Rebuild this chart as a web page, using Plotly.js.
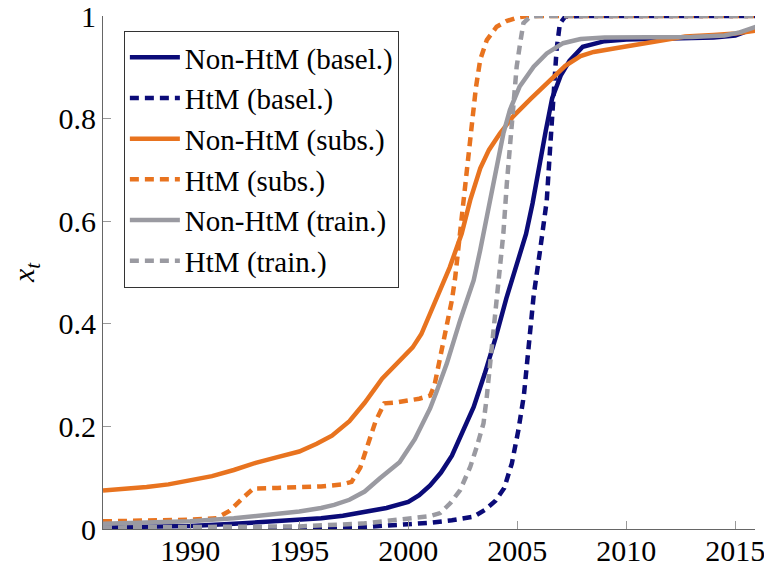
<!DOCTYPE html>
<html>
<head>
<meta charset="utf-8">
<script src="https://cdn.plot.ly/plotly-3.0.1.min.js"></script>
<style>
html,body{margin:0;padding:0;background:#fff;}
#chart{width:764px;height:568px;}
</style>
</head>
<body>
<div id="chart"></div>
<script>
// Non-HtM (basel.)
const yrNonHtmBasel = [1986,1988,1990,1992,1994,1996,1997,1998,1999,2000,2000.5,2001,2001.5,2002,2002.5,2003,2003.5,2004,2004.5,2005,2005.4,2005.7,2006,2006.3,2006.6,2007,2007.4,2008,2009,2010,2012,2014,2015,2016];
const valNonHtmBasel = [0.003,0.004,0.006,0.010,0.015,0.021,0.026,0.033,0.041,0.053,0.066,0.085,0.11,0.143,0.19,0.238,0.302,0.372,0.45,0.52,0.575,0.635,0.71,0.775,0.84,0.885,0.913,0.94,0.951,0.954,0.956,0.958,0.962,0.978];
// HtM (basel.)
const yrHtmBasel = [1986,1990,1995,1998,2000,2001,2002,2003,2003.5,2004,2004.4,2004.75,2005.05,2005.3,2005.45,2005.6,2005.75,2006.05,2006.35,2006.5,2006.65,2006.8,2006.95,2007.2,2008,2016];
const valHtmBasel = [0.001,0.001,0.002,0.004,0.008,0.012,0.017,0.024,0.037,0.055,0.08,0.128,0.193,0.26,0.325,0.39,0.455,0.545,0.64,0.74,0.836,0.934,0.985,0.999,1,1];
// Non-HtM (subs.)
const yrNonHtmSubs = [1986,1987,1988,1989,1990,1991,1992,1993,1994,1995,1995.8,1996.5,1997.3,1998,1998.8,1999.6,2000.2,2000.6,2001,2001.5,2001.9,2002.45,2002.84,2003.3,2003.7,2004.2,2004.8,2005.6,2006.4,2007.2,2007.9,2008.5,2009.5,2010.5,2011.5,2012.7,2014,2015,2016];
const valNonHtmSubs = [0.075,0.078,0.082,0.087,0.094,0.103,0.115,0.129,0.140,0.151,0.166,0.182,0.21,0.246,0.293,0.328,0.354,0.38,0.42,0.47,0.51,0.576,0.641,0.703,0.739,0.771,0.804,0.838,0.872,0.903,0.922,0.93,0.937,0.944,0.953,0.96,0.963,0.966,0.972];
// HtM (subs.)
const yrHtmSubs = [1986,1988,1990,1991.2,1991.8,1992.4,1992.9,1994,1995,1996,1997,1997.4,1997.8,1998.1,1998.5,1998.9,1999.5,2000.5,2001,2001.2,2001.45,2001.75,2002,2002.15,2002.45,2002.75,2003.1,2003.3,2003.6,2004.05,2004.5,2005,2005.5,2016];
const valHtmSubs = [0.015,0.016,0.018,0.021,0.035,0.06,0.079,0.08,0.081,0.083,0.087,0.092,0.12,0.16,0.21,0.245,0.247,0.254,0.26,0.28,0.33,0.39,0.446,0.49,0.61,0.74,0.86,0.915,0.953,0.979,0.99,0.997,1,1];
// Non-HtM (train.)
const yrNonHtmTrain = [1986,1988,1990,1992,1993.5,1995,1996,1996.6,1997.3,1998,1998.7,1999.6,2000.3,2001,2001.3,2001.77,2002.38,2002.68,2003,2003.3,2003.75,2004.06,2004.36,2004.66,2005.1,2005.75,2006.35,2007.1,2007.9,2009,2011,2013,2014.5,2015.2,2016];
const valNonHtmTrain = [0.010,0.012,0.015,0.021,0.027,0.034,0.041,0.047,0.057,0.073,0.099,0.13,0.175,0.235,0.268,0.323,0.407,0.446,0.485,0.544,0.641,0.706,0.771,0.817,0.862,0.901,0.927,0.947,0.955,0.958,0.958,0.959,0.962,0.968,0.98];
// HtM (train.)
const yrHtmTrain = [1986,1990,1995,1998,1999.6,2000.5,2001,2001.46,2001.92,2002.38,2002.84,2003.14,2003.45,2003.6,2003.75,2003.9,2004.06,2004.36,2004.52,2004.82,2004.97,2005.13,2005.28,2005.6,2006,2016];
const valHtmTrain = [0.003,0.003,0.005,0.011,0.018,0.021,0.025,0.031,0.05,0.076,0.121,0.16,0.206,0.258,0.323,0.388,0.456,0.576,0.674,0.836,0.901,0.947,0.986,0.999,1,1];

const seriesNames = ['Non-HtM (basel.)','HtM (basel.)','Non-HtM (subs.)','HtM (subs.)','Non-HtM (train.)','HtM (train.)'];
const xTickVals = [1990,1995,2000,2005,2010,2015];
const yTickVals = [0,0.2,0.4,0.6,0.8,1];

const NAVY = '#0b0b78', ORANGE = '#e8731f', GRAY = '#9a9aa1';
const LW = 4.5, DASH = '9px,6px';
const xs = [yrNonHtmBasel,yrHtmBasel,yrNonHtmSubs,yrHtmSubs,yrNonHtmTrain,yrHtmTrain];
const ys = [valNonHtmBasel,valHtmBasel,valNonHtmSubs,valHtmSubs,valNonHtmTrain,valHtmTrain];
const colors = [NAVY,NAVY,ORANGE,ORANGE,GRAY,GRAY];
const dashes = ['solid',DASH,'solid',DASH,'solid',DASH];

const traces = xs.map((x,i)=>({
  x:x, y:ys[i], type:'scatter', mode:'lines', name:seriesNames[i],
  line:{color:colors[i], width:LW, dash:dashes[i]}
}));

const FONT = 'Liberation Serif';
const layout = {
  width:764, height:568,
  margin:{l:103, r:9, t:16, b:39},
  paper_bgcolor:'#fff', plot_bgcolor:'#fff',
  font:{family:FONT, size:30, color:'#000'},
  showlegend:true,
  legend:{x:0.032, y:0.971, xanchor:'left', yanchor:'top', bgcolor:'#fff', bordercolor:'#333', borderwidth:1, font:{family:FONT,size:29,color:'#000'}, itemwidth:50, tracegroupgap:0},
  xaxis:{range:[1986,2015.9], tickvals:xTickVals, ticktext:xTickVals.map(String), showgrid:false, zeroline:false, showline:true, linecolor:'#666', linewidth:1, ticks:'inside', ticklen:8, tickcolor:'#999', tickfont:{family:FONT,size:30}, ticklabeloverflow:'allow', ticklabelstandoff:-5},
  yaxis:{range:[0,1], tickvals:yTickVals, ticktext:yTickVals.map(String), showgrid:false, zeroline:false, showline:true, linecolor:'#666', linewidth:1, ticks:'inside', ticklen:8, tickcolor:'#999', tickfont:{family:FONT,size:30}, ticklabeloverflow:'allow',
    title:{text:'<i>x<sub>t</sub></i>', font:{family:FONT,size:30}, standoff:15}}
};
Plotly.newPlot('chart', traces, layout, {displayModeBar:false});
</script>
</body>
</html>
